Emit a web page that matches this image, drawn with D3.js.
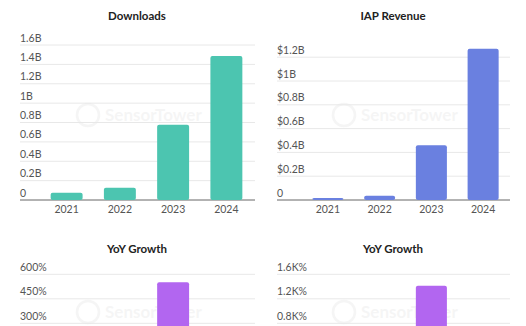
<!DOCTYPE html>
<html>
<head>
<meta charset="utf-8">
<script src="https://cdn.jsdelivr.net/npm/d3@7"></script>
<style>
  body { margin: 0; background: #fff; }
  svg { display: block; font-family: Lato, "Open Sans", sans-serif; }
</style>
</head>
<body>
<svg width="526" height="326"></svg>
<script>
// values (billions / percent)
const years = ["2021", "2022", "2023", "2024"];
const downloads = [0.075, 0.127, 0.776, 1.487];
const revenue = [0.017, 0.036, 0.46, 1.27];
const dlGrowth = [0, 69, 551, 92];
const revGrowth = [0, 112, 1414, 176];

const dlTicks = [0, 0.2, 0.4, 0.6, 0.8, 1, 1.2, 1.4, 1.6];
const revTicks = [0, 0.2, 0.4, 0.6, 0.8, 1, 1.2];
const dlGrowthTicks = [0, 150, 300, 450, 600];
const revGrowthTicks = [0, 400, 800, 1200, 1600];

const svg = d3.select('svg');
const H = 326;

function drawPanel(o) {
    let g = svg.append('g');

    let x = d3.scaleBand().domain(years).range([o.x0, o.x1]).paddingInner(0.4).paddingOuter(0.2);
    let y = d3.scaleLinear().domain(o.domain).range([o.base, o.top]);

    // title
    g.append('text').attr('x', o.cx).attr('y', o.titleY)
        .attr('text-anchor', 'middle').style('font-weight', 'bold')
        .style('font-size', '11.5px').style('fill', '#222').text(o.title);

    // faint watermark
    let wm = g.append('g').attr('opacity', 0.035);
    wm.append('circle').attr('cx', o.cx - 49).attr('cy', o.wmY).attr('r', 11)
        .style('fill', 'none').style('stroke', '#000').style('stroke-width', 2.5);
    wm.append('text').attr('x', o.cx - 32).attr('y', o.wmY + 6)
        .style('font-size', '17px').style('font-weight', 'bold').style('fill', '#000').text('SensorTower');

    // gridlines + labels (only those that fall inside the window)
    let vis = o.ticks.filter(d => y(d) < H);
    g.selectAll('.grid').data(vis).enter().append('line')
        .attr('x1', o.gx0).attr('x2', o.gx1)
        .attr('y1', d => y(d)).attr('y2', d => y(d))
        .style('stroke', d => d == 0 ? '#666' : '#e8e8e8').style('stroke-width', 1);

    g.selectAll('.lab').data(vis).enter().append('text')
        .attr('x', o.gx0).attr('y', d => y(d) - 3.5)
        .style('font-size', '10.5px').style('fill', '#555')
        .text(o.fmt);

    g.selectAll('.bar').data(o.values).enter().append('rect')
        .attr('x', (d, i) => x(years[i]))
        .attr('width', x.bandwidth())
        .attr('y', d => y(d))
        .attr('height', d => o.base - y(d))
        .attr('rx', 2)
        .style('fill', o.color);

    if (o.base < H) {
        g.append('g').attr('transform', `translate(0,${o.base})`)
            .call(d3.axisBottom(x).tickSize(0).tickPadding(6))
            .call(a => a.select('.domain').remove())
            .selectAll('text').style('font-size', '10.5px').style('fill', '#555')
            .style('font-family', 'Lato, "Open Sans", sans-serif');
    }
}

drawPanel({
    title: 'Downloads', cx: 137, titleY: 20, wmY: 115,
    x0: 40, x1: 253, gx0: 20, gx1: 255,
    domain: [0, 1.6], base: 200, top: 45,
    ticks: dlTicks, values: downloads, color: '#4cc5b0',
    fmt: d => d == 0 ? '0' : d + 'B'
});

drawPanel({
    title: 'IAP Revenue', cx: 393, titleY: 20, wmY: 115,
    x0: 302, x1: 509, gx0: 277, gx1: 510,
    domain: [0, 1.4], base: 200, top: 33.4,
    ticks: revTicks, values: revenue, color: '#6a80e0',
    fmt: d => d == 0 ? '0' : '$' + d + 'B'
});

drawPanel({
    title: 'YoY Growth', cx: 137, titleY: 253, wmY: 312,
    x0: 40, x1: 253, gx0: 20, gx1: 255,
    domain: [0, 600], base: 372.3, top: 274.3,
    ticks: dlGrowthTicks, values: dlGrowth, color: '#b266f0',
    fmt: d => d + '%'
});

drawPanel({
    title: 'YoY Growth', cx: 393, titleY: 253, wmY: 312,
    x0: 302, x1: 509, gx0: 277, gx1: 510,
    domain: [0, 1600], base: 372.3, top: 274.3,
    ticks: revGrowthTicks, values: revGrowth, color: '#b266f0',
    fmt: d => d == 0 ? '0' : (d / 1000) + 'K%'
});
</script>
</body>
</html>
